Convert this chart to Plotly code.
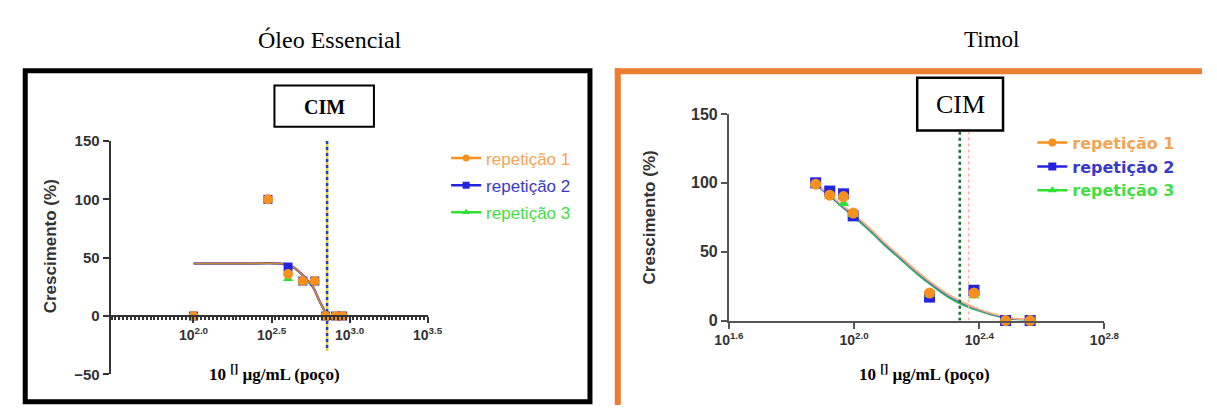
import plotly.graph_objects as go

W, H = 1217, 414

# ---------------- data ----------------
# Óleo Essencial (x = log10 concentration, µg/mL)
oe_x = [2.0, 2.477, 2.606, 2.70, 2.777, 2.846, 2.91, 2.956]
oe_rep1 = [0, 100, 36, 30, 30, 0, 0, 0]
oe_rep2 = [0, 100, 42, 30, 30, 0, 0, 0]
oe_rep3 = [0, 100, 32, 29, 29, 0, 0, 0]
oe_fit_x = [2.0, 2.3, 2.55, 2.6, 2.65, 2.7, 2.74, 2.77, 2.8, 2.83, 2.856]
oe_fit_y = [45, 45, 45, 44, 41, 35, 29, 24, 15, 7, 0]
oe_cim = 2.856
oe_xticks = [2.0, 2.5, 3.0, 3.5]
oe_xtext = ["10<sup>2.0</sup>", "10<sup>2.5</sup>", "10<sup>3.0</sup>", "10<sup>3.5</sup>"]
oe_yticks = [-50, 0, 50, 100, 150]

# Timol
tim_x = [1.877, 1.922, 1.966, 1.997, 2.241, 2.383, 2.484, 2.5625]
tim_rep1 = [99, 91, 90, 78, 20, 20, 0, 0]
tim_rep2 = [100, 94, 92, 76, 17, 22, 0, 0]
tim_rep3 = [99, 90, 85, 77, 19, 18, 0, 0]
tim_fit_x = [1.875, 1.92, 1.96, 2.0, 2.05, 2.1, 2.15, 2.2, 2.25, 2.3, 2.35, 2.4, 2.45, 2.5, 2.56]
tim_fit1 = [99, 92, 84, 77, 67, 56, 46, 36, 27, 19, 13, 8, 4.5, 2, 0.5]
tim_fit2 = [99, 91, 83, 76, 66, 55, 45, 35, 26, 18, 12, 7.5, 4, 1.5, 0.3]
tim_fit3 = [99, 91, 83, 75, 65, 54, 44, 34, 25, 17, 11, 7, 3.5, 1.2, 0.2]
tim_cim_green = 2.3375
tim_cim_orange = 2.366
tim_xticks = [1.6, 2.0, 2.4, 2.8]
tim_xtext = ["10<sup>1.6</sup>", "10<sup>2.0</sup>", "10<sup>2.4</sup>", "10<sup>2.8</sup>"]
tim_yticks = [0, 50, 100, 150]

series_names = ["repetição 1", "repetição 2", "repetição 3"]
ORANGE, BLUE, GREEN = "#F7901E", "#2424E0", "#30E030"
LEG_ORANGE, LEG_BLUE, LEG_GREEN = "#F2A556", "#3A3AC8", "#45DD45"

def fx(px):
    return px / W

def fy(py):
    return 1 - py / H

fig = go.Figure()

# ---------- Left panel ----------
fig.add_trace(go.Scatter(x=oe_fit_x, y=oe_fit_y, mode="lines", line=dict(color="#4B3CA8", width=2.5, shape="spline"),
                         xaxis="x", yaxis="y", showlegend=False, hoverinfo="skip"))
fig.add_trace(go.Scatter(x=oe_fit_x, y=oe_fit_y, mode="lines", line=dict(color="#C98A3A", width=1.6, shape="spline"),
                         xaxis="x", yaxis="y", showlegend=False, hoverinfo="skip"))
fig.add_trace(go.Scatter(x=[oe_cim, oe_cim], y=[150, -30], mode="lines", line=dict(color="#E8D040", width=2.5),
                         xaxis="x", yaxis="y", showlegend=False, hoverinfo="skip"))
fig.add_trace(go.Scatter(x=[oe_cim, oe_cim], y=[150, -30], mode="lines", line=dict(color="#2040D0", width=2.5, dash="dot"),
                         xaxis="x", yaxis="y", showlegend=False, hoverinfo="skip"))

left_specs = [
    (oe_rep2, BLUE, "square", 9, LEG_BLUE, series_names[1], 2),
    (oe_rep3, GREEN, "triangle-up", 9, LEG_GREEN, series_names[2], 3),
    (oe_rep1, ORANGE, "circle", 10, LEG_ORANGE, series_names[0], 1),
]
for ys, col, sym, sz, lcol, nm, rank in left_specs:
    fig.add_trace(go.Scatter(
        x=oe_x, y=ys, mode="markers", marker=dict(color=col, symbol=sym, size=sz),
        xaxis="x", yaxis="y", showlegend=False, cliponaxis=False))
    fig.add_trace(go.Scatter(
        x=[None], y=[None], mode="lines+markers", marker=dict(color=col, symbol=sym, size=7),
        line=dict(color=col, width=2.5), name=f'<span style="color:{lcol}">{nm}</span>',
        legend="legend", legendgroup=f"l{rank}", legendrank=rank, xaxis="x", yaxis="y"))

# ---------- Right panel ----------
for fy_vals, col in [(tim_fit3, "#3CC85A"), (tim_fit2, "#4A6AD0"), (tim_fit1, "#F2B27A")]:
    fig.add_trace(go.Scatter(x=tim_fit_x, y=fy_vals, mode="lines", line=dict(color=col, width=1.8, shape="spline"),
                             xaxis="x2", yaxis="y2", showlegend=False, hoverinfo="skip", cliponaxis=False))
fig.add_trace(go.Scatter(x=[tim_cim_orange, tim_cim_orange], y=[146, 0], mode="lines",
                         line=dict(color="#F4B8A0", width=1.5, dash="dot"),
                         xaxis="x2", yaxis="y2", showlegend=False, hoverinfo="skip", cliponaxis=False))
fig.add_trace(go.Scatter(x=[tim_cim_green, tim_cim_green], y=[137, -4], mode="lines",
                         line=dict(color="#1E6E3A", width=2.5, dash="dot"),
                         xaxis="x2", yaxis="y2", showlegend=False, hoverinfo="skip", cliponaxis=False))

right_specs = [
    (tim_rep2, BLUE, "square", 11, LEG_BLUE, series_names[1], 2),
    (tim_rep3, GREEN, "triangle-up", 10, LEG_GREEN, series_names[2], 3),
    (tim_rep1, ORANGE, "circle", 11, LEG_ORANGE, series_names[0], 1),
]
for ys, col, sym, sz, lcol, nm, rank in right_specs:
    fig.add_trace(go.Scatter(
        x=tim_x, y=ys, mode="markers", marker=dict(color=col, symbol=sym, size=sz),
        xaxis="x2", yaxis="y2", showlegend=False, cliponaxis=False))
    fig.add_trace(go.Scatter(
        x=[None], y=[None], mode="lines+markers", marker=dict(color=col, symbol=sym, size=8),
        line=dict(color=col, width=2.5), name=f'<span style="color:{lcol}"><b>{nm}</b></span>',
        legend="legend2", legendgroup=f"r{rank}", legendrank=rank, xaxis="x2", yaxis="y2"))

AX = "#333333"
SANS = "Arial, Liberation Sans"
ytickfont = dict(family=SANS, size=15, color=AX, weight="bold")
xtickfont = dict(family=SANS, size=14, color=AX, weight="bold")

oe_x0, oe_x1 = 98, 423
oe_range0 = 2.0 - (183 - oe_x0) / (oe_x1 - 183) * (3.5 - 2.0)
fig.update_layout(
    xaxis=dict(domain=[fx(oe_x0), fx(oe_x1)], range=[oe_range0, 3.5], anchor="free", position=fy(321),
               showline=True, linecolor=AX, linewidth=2, ticks="outside", ticklen=6, tickwidth=2, tickcolor=AX,
               tickvals=oe_xticks, ticktext=oe_xtext, tickfont=xtickfont, showgrid=False, zeroline=False,
               minor=dict(ticks="outside", ticklen=3, tickwidth=1.5, tickcolor=AX, dtick=0.025, showgrid=False)),
    yaxis=dict(domain=[fy(382), fy(138)], range=[-50, 150], anchor="x",
               showline=True, linecolor=AX, linewidth=2, ticks="outside", ticklen=6, tickwidth=2, tickcolor=AX,
               tickvals=oe_yticks, tickfont=ytickfont, showgrid=False, zeroline=False),
    xaxis2=dict(domain=[fx(732), fx(1117)], range=[1.6, 2.8], anchor="y2",
                showline=True, linecolor="#555", linewidth=2, ticks="outside", ticklen=6, tickwidth=2, tickcolor="#555",
                tickvals=tim_xticks, ticktext=tim_xtext, tickfont=xtickfont, showgrid=False, zeroline=False),
    yaxis2=dict(domain=[fy(325.7), fy(109.7)], range=[0, 150], anchor="x2",
                showline=True, linecolor="#555", linewidth=2, ticks="outside", ticklen=6, tickwidth=2, tickcolor="#555",
                tickvals=tim_yticks, tickfont=dict(ytickfont, size=16), showgrid=False, zeroline=False),
)

fig.update_layout(
    width=W, height=H, margin=dict(l=0, r=0, t=0, b=0),
    paper_bgcolor="white", plot_bgcolor="rgba(0,0,0,0)",
    legend=dict(x=fx(442), y=fy(137.5), xanchor="left", yanchor="top", bgcolor="rgba(0,0,0,0)",
                font=dict(family=SANS, size=17), traceorder="grouped", tracegroupgap=2,
                itemwidth=30),
    legend2=dict(x=fx(1043), y=fy(122), xanchor="left", yanchor="top", bgcolor="rgba(0,0,0,0)",
                 font=dict(family="DejaVu Sans", size=16), traceorder="grouped", tracegroupgap=0,
                 itemwidth=30),
)

shapes = [
    dict(type="rect", xref="paper", yref="paper", x0=fx(10.5), x1=fx(589.5), y0=fy(410.5), y1=fy(64.5),
         line=dict(color="black", width=5), fillcolor="rgba(0,0,0,0)", layer="below"),
    dict(type="line", xref="paper", yref="paper", x0=fx(615), x1=1, y0=fy(65), y1=fy(65),
         line=dict(color="#ED7D31", width=6)),
    dict(type="line", xref="paper", yref="paper", x0=fx(618), x1=fx(618), y0=fy(62), y1=0,
         line=dict(color="#ED7D31", width=6)),
    dict(type="rect", xref="paper", yref="paper", x0=fx(266), x1=fx(368), y0=fy(123), y1=fy(80),
         line=dict(color="black", width=2), fillcolor="white"),
    dict(type="rect", xref="paper", yref="paper", x0=fx(925), x1=fx(1013), y0=fy(127), y1=fy(72),
         line=dict(color="black", width=2.5), fillcolor="white"),
]
fig.update_layout(shapes=shapes)

serif = "Times New Roman, Liberation Serif, serif"
annotations = [
    dict(text="Óleo Essencial", x=fx(323), y=fy(32), font=dict(family=serif, size=24, color="black")),
    dict(text="Timol", x=fx(1001), y=fy(32), font=dict(family=serif, size=23, color="black")),
    dict(text="<b>CIM</b>", x=fx(317), y=fy(102), font=dict(family=serif, size=20, color="black")),
    dict(text="CIM", x=fx(969), y=fy(100), font=dict(family=serif, size=26, color="black")),
    dict(text="<b>Crescimento (%)</b>", x=fx(36), y=fy(248), textangle=-90,
         font=dict(family=SANS, size=17, color=AX)),
    dict(text="<b>Crescimento (%)</b>", x=fx(651), y=fy(218), textangle=-90,
         font=dict(family=SANS, size=17, color=AX)),
    dict(text="<b>10 <sup>[]</sup> µg/mL (poço)</b>", x=fx(266), y=fy(381),
         font=dict(family=serif, size=17, color="black")),
    dict(text="<b>10 <sup>[]</sup> µg/mL (poço)</b>", x=fx(932), y=fy(381),
         font=dict(family=serif, size=17, color="black")),
]
for a in annotations:
    a.update(xref="paper", yref="paper", showarrow=False, xanchor="center", yanchor="middle")
fig.update_layout(annotations=annotations)

fig.write_html("out.html")
